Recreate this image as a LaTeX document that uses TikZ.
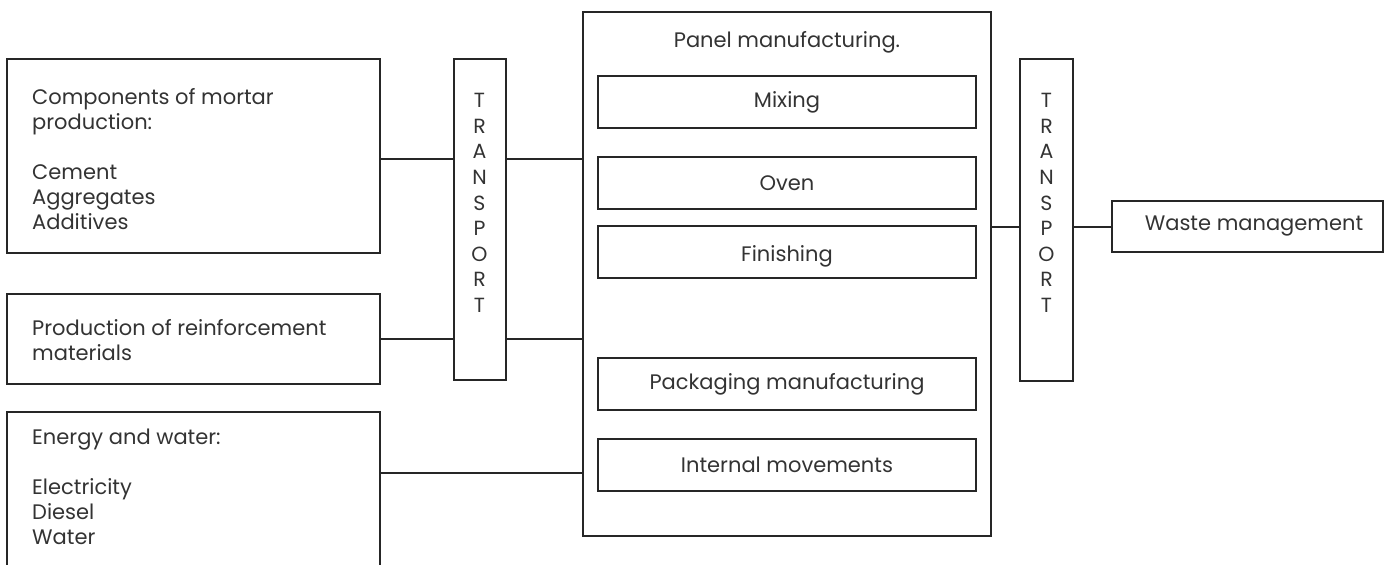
\documentclass[tikz,border=0pt]{standalone}
\usepackage{fontspec}
\setmainfont{Poppins}
\definecolor{strk}{HTML}{262626}
\definecolor{txtc}{HTML}{333333}
\tikzset{
  box/.style={draw=strk, line width=2pt, rectangle, inner sep=0pt, fill=none},
  txt/.style={text=txtc, font=\fontsize{21}{25}\selectfont, inner sep=0pt},
  link/.style={draw=strk, line width=2pt},
}
\begin{document}
\begin{tikzpicture}[x=1pt, y=-1pt]
\useasboundingbox (0,0) rectangle (1390,565);
% left boxes
\node[box, minimum width=373, minimum height=194] (comp) at (193.5,156) {};
\node[txt, align=left, anchor=west] (comptext) at (32,159) {Components of mortar\\production:\\[25pt]Cement\\Aggregates\\Additives};
\node[box, minimum width=373, minimum height=90] (reinf) at (193.5,339) {};
\node[txt, align=left, anchor=west] (reinftext) at (32,340) {Production of reinforcement\\materials};
\node[box, minimum width=373, minimum height=156] (energy) at (193.5,490) {};
\node[txt, align=left, anchor=north west] (energytext) at (32,429) {Energy and water:\\[25pt]Electricity\\Diesel\\Water};
% transport 1
\node[box, minimum width=52, minimum height=321] (t1) at (479.5,219.5) {};
\node[txt, align=center, font=\fontsize{20.5}{25.6}\selectfont] (t1text) at (479.5,203) {T\\R\\A\\N\\S\\P\\O\\R\\T};
% main box
\node[box, minimum width=408, minimum height=524] (main) at (787,274) {};
\node[txt] (maintitle) at (787,42) {Panel manufacturing.};
\node[box, txt, minimum width=378, minimum height=52] (mix) at (787,102) {Mixing};
\node[box, txt, minimum width=378, minimum height=52] (oven) at (787,183) {Oven};
\node[box, minimum width=378, minimum height=52] (fin) at (787,252) {};
\node[txt] (fintext) at (787,256) {Finishing};
\node[box, txt, minimum width=378, minimum height=52] (pack) at (787,384) {Packaging manufacturing};
\node[box, txt, minimum width=378, minimum height=52] (intm) at (787,464.5) {Internal movements};
% transport 2
\node[box, minimum width=53, minimum height=322] (t2) at (1046.5,220) {};
\node[txt, align=center, font=\fontsize{20.5}{25.6}\selectfont] (t2text) at (1046.5,203) {T\\R\\A\\N\\S\\P\\O\\R\\T};
% waste
\node[box, txt, minimum width=271, minimum height=51] (waste) at (1247.5,226.5) {\hspace{13pt}Waste management};
% connector levels
\coordinate (y1) at (0,159);
\coordinate (y2) at (0,339);
\coordinate (y3) at (0,473);
\coordinate (y4) at (0,226.5);
% connectors
\draw[link] (comp.east |- y1) -- (t1.west |- y1);
\draw[link] (t1.east |- y1) -- (main.west |- y1);
\draw[link] (reinf.east |- y2) -- (t1.west |- y2);
\draw[link] (t1.east |- y2) -- (main.west |- y2);
\draw[link] (energy.east |- y3) -- (main.west |- y3);
\draw[link] (main.east |- y4) -- (t2.west |- y4);
\draw[link] (t2.east |- y4) -- (waste.west);
\end{tikzpicture}
\end{document}
